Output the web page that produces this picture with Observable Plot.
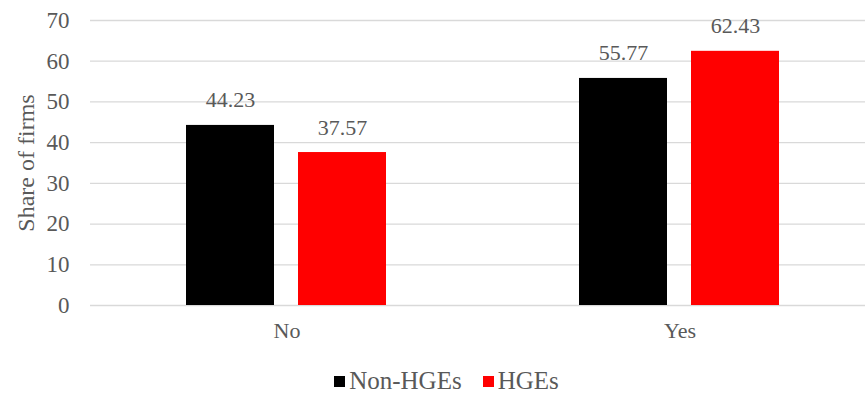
<!DOCTYPE html>
<html><head><meta charset="utf-8">
<script src="https://cdn.jsdelivr.net/npm/d3@7"></script>
<script src="https://cdn.jsdelivr.net/npm/@observablehq/plot@0.6"></script>
<style>
body{margin:0;background:#fff;font-family:"Liberation Serif",serif;}
svg text{font-family:"Liberation Serif",serif !important;}
#legend{display:flex;justify-content:center;align-items:center;gap:21px;height:34px;padding-top:8px;box-sizing:border-box;font-size:25px;color:#595959;margin-left:28px;font-family:"Liberation Serif",serif;}
#legend span.sw{display:inline-block;width:11px;height:11px;margin-right:4px;vertical-align:middle;position:relative;top:-2px;}
</style></head>
<body><div id="chart"></div><div id="legend"></div>
<script>
const categories = ["No", "Yes"];
const series = ["Non-HGEs", "HGEs"];
const nonHGEs = [44.23, 55.77];
const hges = [37.57, 62.43];
const colors = ["#000000", "#ff0000"];
const yTicks = [0, 10, 20, 30, 40, 50, 60, 70];

const data = [];
categories.forEach((c, i) => {
  data.push({cat: c, series: series[0], value: nonHGEs[i]});
  data.push({cat: c, series: series[1], value: hges[i]});
});

const chart = Plot.plot({
  width: 865,
  height: 360,
  marginLeft: 90,
  marginRight: -11,
  marginTop: 20,
  marginBottom: 55,
  style: {fontFamily: "Liberation Serif", fontSize: "21px", color: "#595959", background: "#fff"},
  fx: {domain: categories, padding: 0, label: null},
  x: {domain: series, paddingInner: 0.21, paddingOuter: 0.845, axis: null},
  y: {domain: [0, 70], ticks: yTicks, label: null},
  color: {domain: series, range: colors},
  marks: [
    Plot.gridY(yTicks, {stroke: "#d9d9d9", strokeOpacity: 1, strokeWidth: 1.3}),
    Plot.axisY(yTicks, {tickSize: 0, tickPadding: 21, fontSize: 23, fill: "#595959",
      label: "Share of firms", labelAnchor: "center", labelArrow: "none", labelOffset: 74}),
    Plot.barY(data, {fx: "cat", x: "series", y: "value", fill: "series"}),
    Plot.text(data, {fx: "cat", x: "series", y: "value", text: d => d.value.toFixed(2), dy: -25, fontSize: 22, fill: "#595959"}),
    Plot.axisFx({anchor: "bottom", tickSize: 0, tickPadding: 17, fontSize: 22, fill: "#595959", label: null})
  ]
});
document.getElementById("chart").appendChild(chart);
chart.querySelectorAll("g[aria-label='y-axis label'] text").forEach(t => t.setAttribute("font-size", 24));

const lg = document.getElementById("legend");
series.forEach((s, i) => {
  const item = document.createElement("div");
  item.innerHTML = `<span class="sw" style="background:${colors[i]}"></span>${s}`;
  lg.appendChild(item);
});
</script></body></html>
